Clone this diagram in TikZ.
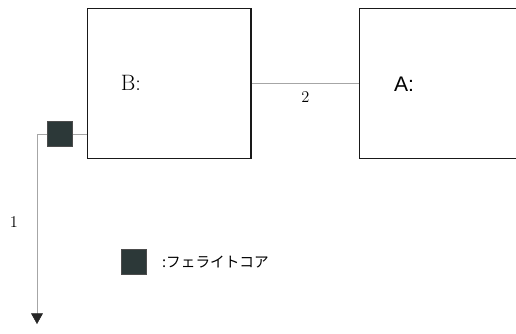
\documentclass[tikz,border=0pt]{standalone}
\usepackage{fontspec}
\usepackage{tikz}
\usetikzlibrary{arrows.meta}
\newfontfamily\jpfont{Noto Sans CJK JP}
\newfontfamily\labelsans{Liberation Sans}
\definecolor{coregray}{RGB}{44,56,56}

\tikzset{
  unitbox/.style={draw,very thick,black!90,minimum width=4.9cm,minimum height=4.5cm},
  core/.style={draw=black!70,fill=coregray,minimum size=0.75cm,inner sep=0pt},
  wire/.style={black!35,thin}
}

\begin{document}
\begin{tikzpicture}[x=0.03cm,y=-0.03cm]
  \useasboundingbox (0,0) rectangle (516,333);
  \begin{scope}
    % boxes
    \node[unitbox,anchor=north west] (boxB) at (87,8) {};
    \node[unitbox,anchor=north west] (boxA) at (359,8) {};
    \node at (131,83) {\fontsize{19}{22}\selectfont B:};
    \node at (404,84) {\fontsize{18}{22}\selectfont\labelsans A:};

    % cable between the units
    \draw[wire] (boxB.east |- 0,83) -- (boxA.west |- 0,83) node[midway,below=4pt,black] {\fontsize{14}{16}\selectfont 2};

    % cable with ferrite core
    \node[core] (fc) at (60,134) {};
    \coordinate (bend) at (37,134);
    \coordinate (tip) at (37,324);
    \draw[wire] (boxB.west |- fc) -- (fc.east);
    \draw[wire,-{Triangle[width=10pt,length=9pt,black!85]}] (fc.west) -- (bend) -- (tip);
    \node at (14,222) {\fontsize{14}{16}\selectfont 1};

    % legend
    \node[core] (key) at (134,262) {};
    \node[anchor=west] at (158,262) {\fontsize{12.5}{15}\selectfont\jpfont :フェライトコア};
  \end{scope}
\end{tikzpicture}
\end{document}
